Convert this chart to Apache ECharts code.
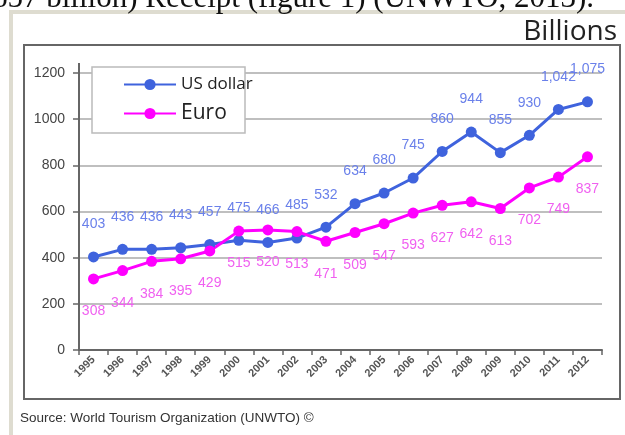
<!DOCTYPE html>
<html><head><meta charset="utf-8">
<script src="https://cdn.jsdelivr.net/npm/echarts@6/dist/echarts.min.js"></script>
<style>html,body{margin:0;padding:0;background:#fff}#c{width:625px;height:435px}</style>
</head><body><div id="c"></div>
<script>
const years = ['1995','1996','1997','1998','1999','2000','2001','2002','2003','2004','2005','2006','2007','2008','2009','2010','2011','2012'];
const usDollar = [403,436,436,443,457,475,466,485,532,634,680,745,860,944,855,930,1042,1075];
const euro = [308,344,384,395,429,515,520,513,471,509,547,593,627,642,613,702,749,837];
const yTicks = [0,200,400,600,800,1000,1200];

function fmt(v){ return String(v).replace(/\B(?=(\d{3})+(?!\d))/g, ','); }

const chart = echarts.init(document.getElementById('c'), null, {renderer:'canvas'});
chart.setOption({
  backgroundColor:'#ffffff',
  animation:false,
  grid:{left:79,right:23,top:73,bottom:85},
  legend:{
    left:123, top:76, orient:'vertical', padding:0, itemWidth:52, itemHeight:14, itemGap:10, z:10,
    textStyle:{color:'#222', fontFamily:'Open Sans'},
    data:[{name:'US dollar', textStyle:{fontSize:17}},{name:'Euro', textStyle:{fontSize:21}}]
  },
  xAxis:{
    type:'category', data:years, boundaryGap:true,
    axisLine:{lineStyle:{color:'#666',width:2}},
    axisTick:{show:true,length:5,lineStyle:{color:'#666',width:1.5}},
    axisLabel:{rotate:45, fontSize:11, fontWeight:'bold', color:'#555', margin:8, fontFamily:'Liberation Sans'}
  },
  yAxis:{
    type:'value', min:yTicks[0], max:yTicks[yTicks.length-1], interval:200,
    axisLine:{show:true,lineStyle:{color:'#666',width:2}},
    axisTick:{show:true,length:6,lineStyle:{color:'#666',width:1.5}},
    axisLabel:{fontSize:14, color:'#444', margin:14, fontFamily:'Liberation Sans', formatter:v=>String(v)},
    splitLine:{lineStyle:{color:'#aaa',width:1.5}}
  },
  series:[
    {name:'US dollar', type:'line', data:usDollar, symbol:'circle', symbolSize:11,
     itemStyle:{color:'#3f63dd'}, lineStyle:{width:3,color:'#3f63dd'},
     label:{show:true, position:'top', distance:20, color:'#6a80ea', fontSize:14, fontFamily:'Liberation Sans', formatter:p=>fmt(p.value)}},
    {name:'Euro', type:'line', data:euro, symbol:'circle', symbolSize:11,
     itemStyle:{color:'#ff00ff'}, lineStyle:{width:3,color:'#ff00ff'},
     label:{show:true, position:'bottom', distance:20, color:'#f060f0', fontSize:14, fontFamily:'Liberation Sans', formatter:p=>fmt(p.value)}}
  ],
  graphic:[
    {type:'rect', shape:{x:9,y:10,width:4,height:425}, style:{fill:'#dedcd0'}, z:1},
    {type:'rect', shape:{x:9,y:10,width:616,height:4}, style:{fill:'#dedcd0'}, z:1},
    {type:'rect', shape:{x:0,y:0,width:625,height:10}, style:{fill:'#fff'}, z:2},
    {type:'text', x:-8, y:14, style:{text:'657 billion) Receipt (figure 1) (UNWTO, 2013).', font:'31px "Liberation Serif"', fill:'#111', textVerticalAlign:'bottom'}, z:3},
    {type:'text', right:8, top:18, style:{text:'Billions', font:'28px "Open Sans"', fill:'#222'}, z:1},
    {type:'rect', shape:{x:24,y:45,width:596,height:354}, style:{fill:'none', stroke:'#666', lineWidth:2}, z:1},
    {type:'line', shape:{x1:79,y1:63,x2:79,y2:74}, style:{stroke:'#666', lineWidth:2}, z:1},
    {type:'rect', shape:{x:92,y:67,width:153,height:66}, style:{fill:'#fff', stroke:'#bbb', lineWidth:1.5}, z:6},
    {type:'text', left:20, top:411, style:{text:'Source: World Tourism Organization (UNWTO) \u00A9', font:'13.5px "Liberation Sans"', fill:'#333'}, z:1}
  ]
});
</script></body></html>
